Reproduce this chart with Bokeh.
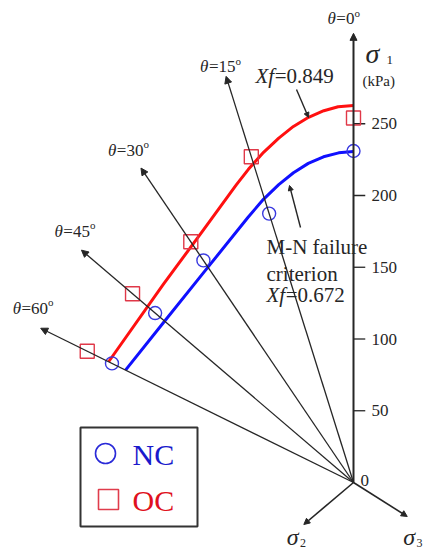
import numpy as np
from bokeh.plotting import figure
from bokeh.models import Range1d, Arrow, NormalHead, ColumnDataSource
from bokeh.embed import file_html
from bokeh.resources import INLINE
from bokeh.core.properties import value

# ---------------------------------------------------------------- data
# Radial directions in the deviatoric plane (Lode angle, degrees from sigma_1)
ray_theta = [0, 15, 30, 45, 60]
ray_length = [313, 293, 253, 229, 215]          # kPa

# sigma_1 scale
tick_values = [0, 50, 100, 150, 200, 250]
tick_labels = ["0", "50", "100", "150", "200", "250"]

# Failure points of the tests (Lode angle, radius in kPa)
nc_theta = [0, 15, 30, 45, 60]
nc_r = [231, 194, 178.7, 167, 166]
oc_theta = [0, 15, 30, 45, 60]
oc_r = [254, 235, 193.7, 186, 183]

# M-N failure criterion traces (Lode angle, radius in kPa)
oc_curve_theta = [0, 2.0, 3.9, 6.0, 8.2, 10.5, 13.1, 16.0, 18.6, 26.9, 39.3, 60]
oc_curve_r = [262.7, 262.0, 259.7, 255.9, 250.7, 244.1, 236.2, 227.0, 218.8, 197.4, 178.6, 168.3]
nc_curve_theta = [0, 2.2, 4.5, 6.9, 9.4, 12.1, 15.2, 18.8, 31.4, 45.4, 60]
nc_curve_r = [230.7, 229.9, 227.7, 224.0, 218.8, 212.3, 204.5, 195.1, 171.3, 158.8, 156.7]
oc_xf = "0.849"
nc_xf = "0.672"

# sigma_2 / sigma_3 projections (angle from sigma_1, length)
minor_axis_theta = [134.7, 233.5]
minor_axis_length = [41.6, 39.8]
minor_axis_sub = ["2", "3"]

# ---------------------------------------------------------------- frame
W, H = 428, 552
X0, Y0 = 353, 482          # origin on the canvas
SX, SY = 1.68, 1.435       # pixels per kPa, horizontal / vertical

SERIF = "Liberation Serif"
INK = "#262626"
MID = 0.34                 # baseline -> middle of the em box, in em


def px2x(px):
    return (px - X0) / SX


def px2y(py):
    return (Y0 - py) / SY


def polar(theta_deg, r):
    t = np.radians(np.asarray(theta_deg, dtype=float))
    r = np.asarray(r, dtype=float)
    return -r * np.sin(t), r * np.cos(t)


# approximate Times advance widths (em) for composing rich labels
EM = {"θ": 0.52, "=": 0.564, ".": 0.25, "X": 0.611, "f": 0.30, "σ": 0.55,
      "-": 0.333, " ": 0.25, "o": 0.5}


def text_width(s, size):
    return sum(EM.get(ch, 0.5) for ch in s) * size


p = figure(width=W, height=H, output_backend="svg", toolbar_location=None,
           x_range=Range1d(-X0 / SX, (W - X0) / SX),
           y_range=Range1d((Y0 - H) / SY, Y0 / SY),
           min_border=0, x_axis_type=None, y_axis_type=None)
p.grid.visible = False
p.outline_line_color = None
p.background_fill_color = "white"
p.border_fill_color = "white"


def rich(x, y, parts, dx=0.0, dy=0.0):
    """Consecutive text runs sharing a baseline dy px below (x, y);
    parts = (text, size, style, rise)."""
    off = dx
    for txt, size, style, rise in parts:
        p.text(x=[x], y=[y], text=[txt], x_offset=off,
               y_offset=dy - rise - MID * size,
               text_font=value(SERIF), text_font_size=f"{size}px",
               text_font_style=style, text_color=INK,
               text_align="left", text_baseline="middle")
        off += text_width(txt, size)


# ---------------------------------------------------------------- rays
rx, ry = polar(ray_theta, ray_length)
ray_src = ColumnDataSource(dict(x0=[0.0] * len(rx), y0=[0.0] * len(rx),
                                x1=list(rx), y1=list(ry),
                                w=[2.0] + [1.3] * (len(rx) - 1)))
p.add_layout(Arrow(source=ray_src, x_start="x0", y_start="y0", x_end="x1", y_end="y1",
                   line_color=INK, line_width="w",
                   end=NormalHead(size=7, fill_color=INK, line_color=INK, line_width=1)))

mx, my = polar(minor_axis_theta, minor_axis_length)
minor_src = ColumnDataSource(dict(x0=[0.0, 0.0], y0=[0.0, 0.0], x1=list(mx), y1=list(my)))
p.add_layout(Arrow(source=minor_src, x_start="x0", y_start="y0", x_end="x1", y_end="y1",
                   line_color=INK, line_width=1.6,
                   end=NormalHead(size=6, fill_color=INK, line_color=INK, line_width=1)))

# ticks on the sigma_1 axis
tv = [v for v in tick_values if v > 0]
p.segment(x0=[0.0] * len(tv), y0=tv, x1=[7.0] * len(tv), y1=tv,
          line_color=INK, line_width=1.3)
p.text(x=[0.0] * len(tick_values), y=tick_values, text=tick_labels,
       x_offset=[7 if v == 0 else 18 for v in tick_values],
       y_offset=[-2 if v == 0 else 0 for v in tick_values],
       text_font=value(SERIF), text_font_size="17px", text_color=INK,
       text_align="left", text_baseline="middle")

# Lode-angle labels at the ray tips
lbl_dx = [-26, -26, -33, -27, -28]
lbl_dy = [-9, -4, -12, -13, -14]
for th, x, y, dx, dy in zip(ray_theta, rx, ry, lbl_dx, lbl_dy):
    rich(x, y, [("θ", 17, "italic", 0),
                ("=" + str(th), 17, "normal", 0),
                ("o", 11, "normal", 8)], dx=dx, dy=dy)

# axis titles
rich(0.0, ry[0], [("σ", 28, "italic", 0)], dx=12, dy=30)
rich(0.0, ry[0], [("1", 13, "normal", 0)], dx=33, dy=31)
rich(0.0, ry[0], [("(kPa)", 15, "normal", 0)], dx=9, dy=53)
for x, y, sub, dx, dy in zip(mx, my, minor_axis_sub, [-17, -4], [21, 29]):
    rich(x, y, [("σ", 24, "italic", 0), (sub, 12, "normal", -2)], dx=dx, dy=dy)

# ---------------------------------------------------------------- criterion curves
ox, oy = polar(oc_curve_theta, oc_curve_r)
p.line(ox, oy, line_color="#ff1010", line_width=3, line_join="round")
nx, ny = polar(nc_curve_theta, nc_curve_r)
p.line(nx, ny, line_color="#1010ff", line_width=3, line_join="round")

# ---------------------------------------------------------------- test points
ncx, ncy = polar(nc_theta, nc_r)
p.scatter(ncx, ncy, marker="circle", size=13, fill_color=None,
          line_color="#3a3ae0", line_width=1.4)
ocx, ocy = polar(oc_theta, oc_r)
p.scatter(ocx, ocy, marker="square", size=14, fill_color=None,
          line_color="#e03848", line_width=1.4)

# ---------------------------------------------------------------- annotations
ptr_src = ColumnDataSource(dict(x0=[px2x(296), px2x(300)], y0=[px2y(89), px2y(227)],
                                x1=[px2x(308), px2x(289)], y1=[px2y(117), px2y(185)]))
p.add_layout(Arrow(source=ptr_src, x_start="x0", y_start="y0", x_end="x1", y_end="y1",
                   line_color=INK, line_width=1.4,
                   end=NormalHead(size=5, fill_color=INK, line_color=INK, line_width=1)))

rich(px2x(255), px2y(83), [("Xf", 21, "italic", 0), ("=" + oc_xf, 21, "normal", 0)])
for txt, base in [("M-N failure", 253.5), ("criterion", 281)]:
    rich(px2x(266), px2y(base), [(txt, 21, "normal", 0)])
rich(px2x(266), px2y(302), [("Xf", 21, "italic", 0), ("=" + nc_xf, 21, "normal", 0)])

# ---------------------------------------------------------------- key
p.quad(left=[px2x(80)], right=[px2x(197)], top=[px2y(427)], bottom=[px2y(526)],
       fill_color=None, line_color="#333333", line_width=2)
p.scatter([px2x(105)], [px2y(453)], marker="circle", size=20, fill_color=None,
          line_color="#2a2ad8", line_width=1.6)
p.scatter([px2x(108)], [px2y(499)], marker="square", size=20, fill_color=None,
          line_color="#e03c4c", line_width=1.6)
p.text(x=[px2x(132), px2x(132)], y=[px2y(454), px2y(500)], text=["NC", "OC"],
       text_font=value(SERIF), text_font_size="30px",
       text_color=["#1a1acc", "#e01020"], text_align="left", text_baseline="middle")

open("out.html", "w").write(file_html(p, INLINE))
